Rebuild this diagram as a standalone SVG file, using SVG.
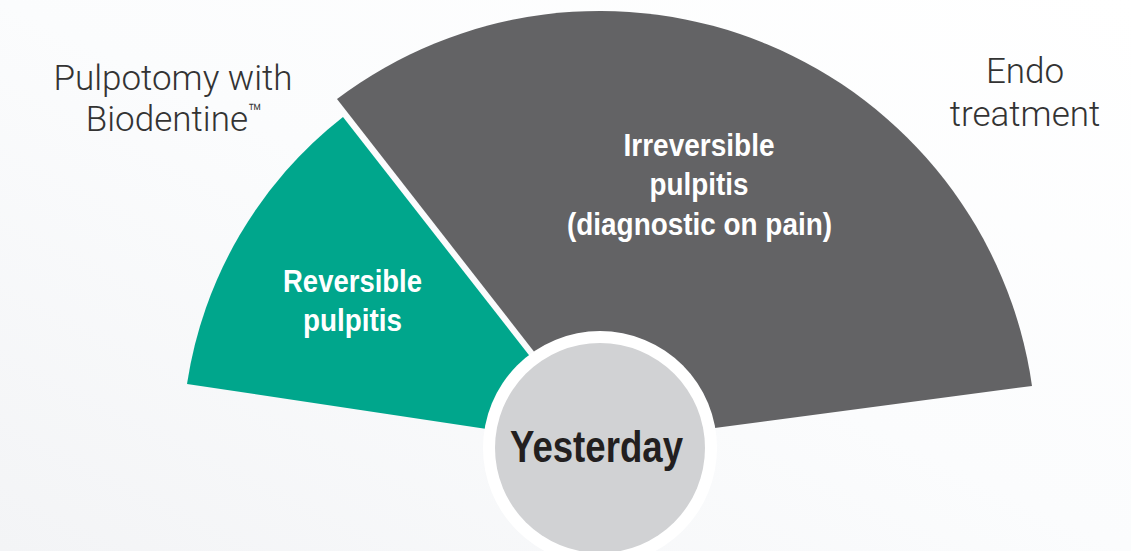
<svg xmlns="http://www.w3.org/2000/svg" width="1131" height="551" viewBox="0 0 1131 551">
  <defs>
    <linearGradient id="bg" x1="0" y1="1" x2="1" y2="0">
      <stop offset="0" stop-color="#f3f4f6"/>
      <stop offset="0.5" stop-color="#fbfcfd"/>
      <stop offset="1" stop-color="#ffffff"/>
    </linearGradient>
  </defs>
  <style>
    .seg { font-family: "Liberation Sans", "Arial", sans-serif; font-weight: bold; fill: #ffffff; text-anchor: middle; font-size: 32px; }
    .lbl { font-family: "Roboto", "Liberation Sans", sans-serif; font-weight: 300; fill: #333333; text-anchor: middle; font-size: 35px; }
    .ctr { font-family: "Liberation Sans", "Arial", sans-serif; font-weight: bold; fill: #231f20; text-anchor: middle; font-size: 45px; }
  </style>
  <rect x="0" y="0" width="1131" height="551" fill="url(#bg)"/>

  <g id="irreversible">
    <path d="M 604.8,442.4 L 337,99 A 436.5 436.5 0 0 1 1032,386 Z" fill="#636365"/>
    <text class="seg" x="699" y="156" textLength="151" lengthAdjust="spacingAndGlyphs">Irreversible</text>
    <text class="seg" x="699" y="195" textLength="99" lengthAdjust="spacingAndGlyphs">pulpitis</text>
    <text class="seg" x="699.5" y="235" textLength="265" lengthAdjust="spacingAndGlyphs">(diagnostic on pain)</text>
  </g>

  <g id="reversible">
    <path d="M 600,446 L 187,384 A 418 418 0 0 1 343,117 Z" fill="#00a68c"/>
    <text class="seg" x="352.5" y="292" textLength="139" lengthAdjust="spacingAndGlyphs">Reversible</text>
    <text class="seg" x="352.5" y="331" textLength="99" lengthAdjust="spacingAndGlyphs">pulpitis</text>
  </g>

  <g id="yesterday">
    <circle cx="600" cy="448" r="117" fill="#ffffff"/>
    <circle cx="600" cy="448" r="105" fill="#d1d2d4"/>
    <text class="ctr" x="596.5" y="462" textLength="173" lengthAdjust="spacingAndGlyphs">Yesterday</text>
  </g>

  <g id="label-pulpotomy">
    <text class="lbl" x="173" y="90">Pulpotomy with</text>
    <text class="lbl" x="174" y="131">Biodentine<tspan font-size="23" dy="-11">™</tspan></text>
  </g>

  <g id="label-endo">
    <text class="lbl" x="1025" y="83">Endo</text>
    <text class="lbl" x="1025" y="126">treatment</text>
  </g>

  <g id="connectors"></g>
</svg>
